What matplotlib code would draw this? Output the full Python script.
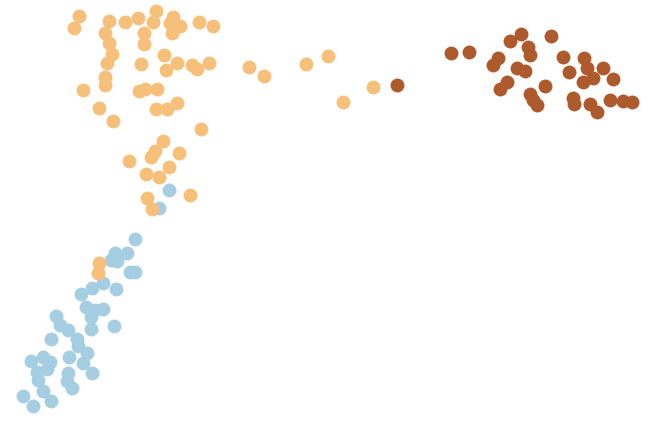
import matplotlib
matplotlib.use("Agg")
import matplotlib.pyplot as plt

# positions (x to the right, y downwards)
blue_x = [169, 159, 135, 115, 127, 117, 111, 130, 135, 103, 92, 81, 116, 86, 95, 103,
          91, 56, 60, 68, 114, 91, 51, 77, 78, 87, 69, 31, 43, 50, 83, 47, 92, 37, 68,
          67, 38, 72, 43, 23, 51, 33]
blue_y = [190, 208, 239, 253, 253, 261, 260, 272, 272, 283, 288, 294, 289, 307, 310, 309,
          317, 316, 325, 330, 326, 329, 339, 339, 346, 353, 357, 361, 357, 362, 363, 369,
          373, 372, 373, 381, 380, 388, 391, 396, 401, 406]

orange_x = [79, 74, 109, 125, 138, 156, 153, 173, 170, 180, 199, 213, 105, 144, 172, 109,
            144, 112, 107, 164, 141, 177, 166, 192, 197, 209, 105, 105, 83, 139, 145, 157,
            99, 113, 156, 167, 177, 201, 163, 155, 151, 179, 129, 169, 146, 159, 190, 147,
            152, 249, 264, 306, 328, 373, 343, 99, 98]
orange_y = [16, 28, 21, 22, 18, 11, 22, 17, 23, 26, 22, 26, 33, 33, 33, 43,
            44, 54, 63, 55, 64, 63, 70, 65, 69, 63, 77, 85, 90, 91, 89, 89,
            108, 121, 109, 109, 103, 129, 141, 151, 157, 153, 161, 167, 174, 177, 195, 198,
            209, 67, 76, 64, 56, 87, 102, 263, 273]

brown_x = [397, 451, 469, 510, 521, 528, 530, 551, 498, 493, 517, 525, 563, 584, 587, 569,
           603, 613, 593, 583, 507, 500, 545, 530, 537, 573, 574, 590, 597, 610, 623, 632, 533]
brown_y = [85, 53, 52, 41, 34, 47, 55, 36, 58, 65, 68, 71, 57, 58, 68, 72,
           68, 79, 78, 82, 82, 89, 86, 94, 105, 98, 104, 104, 112, 100, 101, 102, 100]

fig = plt.figure(figsize=(6.52, 4.22), dpi=100)
ax = fig.add_axes([0, 0, 1, 1])
ax.scatter(blue_x, blue_y, s=100, c="#a6cee3", linewidths=0)
ax.scatter(orange_x, orange_y, s=100, c="#f6c07a", linewidths=0)
ax.scatter(brown_x, brown_y, s=100, c="#ad5a2c", linewidths=0)
ax.set_xlim(0, 652)
ax.set_ylim(422, 0)
ax.axis("off")
fig.savefig("out.png", dpi=100)
